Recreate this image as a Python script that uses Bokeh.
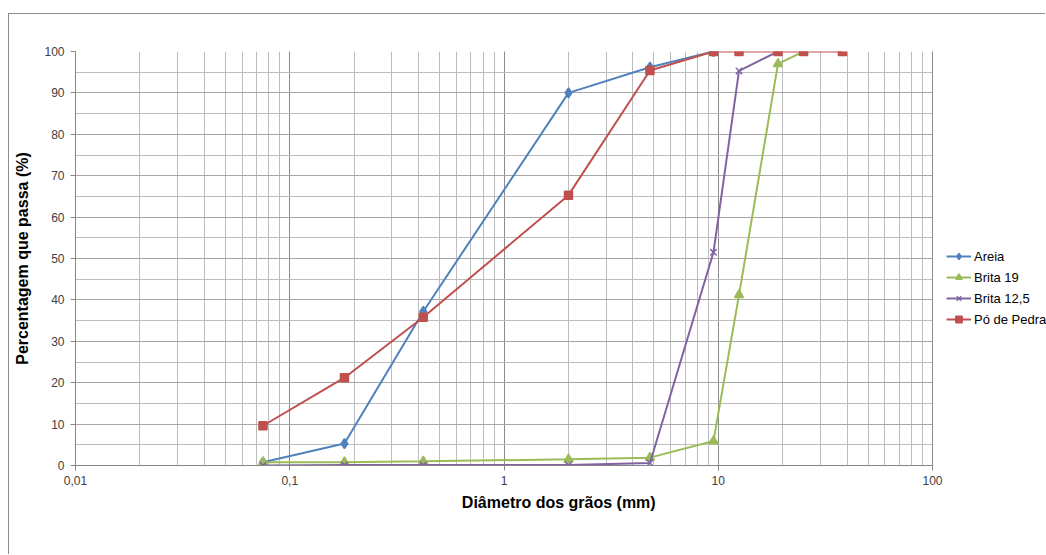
from bokeh.plotting import figure
from bokeh.models import (Range1d, LogTicker, SingleIntervalTicker, CustomJSTickFormatter,
                          Legend, LegendItem, BoxAnnotation, Span)
from bokeh.embed import file_html
from bokeh.resources import INLINE

# ---- data ----
sieve = [0.075, 0.18, 0.42, 2.0, 4.8, 9.5, 12.5, 19, 25, 38]
areia_x = sieve[:6]
areia_y = [0.8, 5.3, 37.2, 90.0, 96.2, 100]
brita19_x = sieve[:9]
brita19_y = [0.8, 0.8, 1.0, 1.5, 1.9, 5.9, 41.2, 97.0, 100]
brita125_x = sieve[:8]
brita125_y = [0.0, 0.1, 0.1, 0.1, 0.6, 51.5, 95.3, 100]
po_x = sieve
po_y = [9.6, 21.2, 35.8, 65.3, 95.4, 100, 100, 100, 100, 100]
x_min, x_max = 0.01, 100
y_min, y_max = 0, 100

FONT = "Liberation Sans"
TXT = "#404040"

# chart box starts at (8, 13) in the page; 1px border on its left/top
OFF_X, OFF_Y = 8, 13
W, H = 1046 - OFF_X, 541 - OFF_Y + 13
LEFT = 75 - OFF_X - 1
TOP = 51 - OFF_Y - 1
FRAME_BOTTOM = 465 - OFF_Y - 1
AX_RIGHT = 932 - OFF_X - 1
px_per_decade = (AX_RIGHT - LEFT) / 4.0
x_view_end = x_max * 10 ** ((W - 1 - AX_RIGHT) / px_per_decade)

p = figure(width=W - 1, height=H, x_axis_type="log",
           x_range=Range1d(x_min, x_view_end), y_range=Range1d(y_min, y_max),
           output_backend="svg", toolbar_location=None,
           min_border_left=LEFT, min_border_right=0,
           min_border_top=TOP, min_border_bottom=H - FRAME_BOTTOM)
p.margin = (OFF_Y, 0, 0, OFF_X)
p.styles = {"border-left": "1px solid #8c8c8c", "border-top": "1px solid #8c8c8c"}
p.outline_line_color = None
p.background_fill_color = "white"
p.border_fill_color = "white"

# axes
p.xaxis.ticker = LogTicker(desired_num_ticks=5, num_minor_ticks=10)
p.xaxis.formatter = CustomJSTickFormatter(code="return tick.toString().replace('.', ',');")
p.xaxis.bounds = (x_min, x_max)
p.xgrid.bounds = (x_min, x_max)
p.yaxis.ticker = SingleIntervalTicker(interval=10, num_minor_ticks=2)
for ax in (p.xaxis[0], p.yaxis[0]):
    ax.axis_line_color = "#868686"
    ax.major_tick_line_color = "#868686"
    ax.major_tick_out = 5
    ax.major_tick_in = 0
    ax.minor_tick_line_color = None
    ax.major_label_text_font = FONT
    ax.major_label_text_font_size = "12px"
    ax.major_label_text_color = TXT
    ax.axis_label_text_font = FONT
    ax.axis_label_text_font_size = "16px"
    ax.axis_label_text_font_style = "bold"
    ax.axis_label_text_color = "#000000"
p.xaxis.axis_label = "Diâmetro dos grãos  (mm)"
p.yaxis.axis_label = "Percentagem que passa (%)"
p.xaxis.major_label_standoff = 5
p.yaxis.major_label_standoff = 6
p.xaxis.axis_label_standoff = 6
p.yaxis.axis_label_standoff = 10

# grids
p.xgrid.grid_line_color = "#8c8c8c"
p.xgrid.minor_grid_line_color = "#bdbdbd"
p.ygrid.grid_line_color = "#a6a6a6"
p.ygrid.minor_grid_line_color = "#bdbdbd"

# blank out the grid beyond the axis end (legend area)
p.add_layout(BoxAnnotation(left=x_max, fill_color="white", fill_alpha=1.0,
                           line_color=None, level="underlay"))
p.add_layout(Span(location=x_max, dimension="height", line_color="#8c8c8c",
                  line_width=1, level="underlay"))

series = [
    ("Areia", areia_x, areia_y, "#4F81BD", "diamond", 10),
    ("Brita 19", brita19_x, brita19_y, "#9BBB59", "triangle", 9),
    ("Brita 12,5", brita125_x, brita125_y, "#8064A2", "x", 9),
    ("Pó de Pedra", po_x, po_y, "#C0504D", "square", 8),
]
items = []
for name, xs, ys, col, mk, sz in series:
    l = p.line(xs, ys, line_color=col, line_width=2)
    s = p.scatter(xs, ys, marker=mk, size=sz, fill_color=col, line_color=col, line_width=1.5)
    items.append(LegendItem(label=name, renderers=[l, s]))

legend = Legend(items=items, location=(871, 138), orientation="vertical",
                border_line_color=None, background_fill_alpha=0,
                label_text_font=FONT, label_text_font_size="13px", label_text_color="#000000",
                glyph_width=25, glyph_height=16, label_standoff=3, spacing=5,
                padding=4, margin=0, label_height=16)
p.add_layout(legend)

open("out.html", "w").write(file_html(p, INLINE))
